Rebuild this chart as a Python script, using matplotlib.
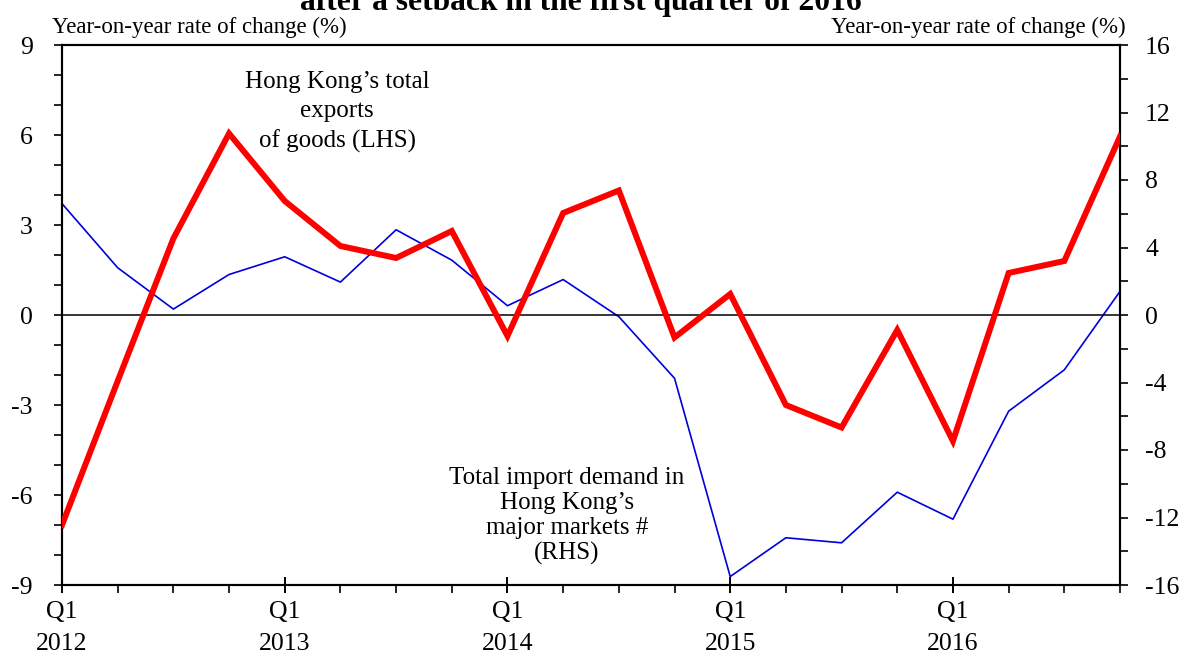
import numpy as np
import matplotlib
matplotlib.use("Agg")
import matplotlib.pyplot as plt
from matplotlib.ticker import MultipleLocator, FixedLocator

plt.rcParams['font.family'] = ['Liberation Serif', 'DejaVu Serif']

quarters = ["Q1\n2012", "Q2", "Q3", "Q4",
            "Q1\n2013", "Q2", "Q3", "Q4",
            "Q1\n2014", "Q2", "Q3", "Q4",
            "Q1\n2015", "Q2", "Q3", "Q4",
            "Q1\n2016", "Q2", "Q3", "Q4"]

# Hong Kong's total exports of goods, yoy % (LHS)
hk_exports = [-7.0, -2.2, 2.55, 6.05,
              3.8, 2.3, 1.9, 2.8,
              -0.7, 3.4, 4.15, -0.75,
              0.7, -3.0, -3.75, -0.5,
              -4.2, 1.4, 1.8, 5.95]

# Total import demand in HK's major markets, yoy % (RHS)
import_demand = [6.6, 2.8, 0.35, 2.4,
                 3.45, 1.95, 5.05, 3.25,
                 0.55, 2.1, -0.1, -3.75,
                 -15.5, -13.2, -13.5, -10.5,
                 -12.1, -5.7, -3.25, 1.4]

left_ticks = [-9, -6, -3, 0, 3, 6, 9]
right_ticks = [-16, -12, -8, -4, 0, 4, 8, 12, 16]

x = np.arange(len(quarters))

fig = plt.figure(figsize=(11.82, 6.57), dpi=100)
ax = fig.add_axes([62/1182, 1-585/657, (1120-62)/1182, (585-45)/657])
ax2 = ax.twinx()

ax.axhline(0, color='black', linewidth=1.1, zorder=1)
ax2.plot(x, import_demand, color='#0000DD', linewidth=1.2, zorder=2)
ax.plot(x, hk_exports, color='#FF0000', linewidth=4.3, zorder=3,
        solid_joinstyle='miter')
ax.set_zorder(ax2.get_zorder() + 1)
ax.patch.set_visible(False)

ax.set_xlim(0, len(quarters) - 1)
ax.set_ylim(-9, 9)
ax2.set_ylim(-16, 16)

major_idx = [i for i, q in enumerate(quarters) if q.startswith("Q1")]
ax.xaxis.set_major_locator(FixedLocator(major_idx))
ax.set_xticklabels([quarters[i] for i in major_idx], fontsize=18.5,
                   linespacing=1.6)
ax.xaxis.set_minor_locator(FixedLocator(list(x)))
ax.tick_params(axis='x', which='major', direction='inout', length=11,
               width=1.4, pad=6)
ax.tick_params(axis='x', which='minor', direction='out', length=5.5,
               width=1.2)

ax.set_yticks(left_ticks)
ax.set_yticklabels([str(v) for v in left_ticks], fontsize=18.5)
ax.yaxis.set_minor_locator(MultipleLocator(1))
ax.tick_params(axis='y', which='both', direction='out', length=6,
               width=1.2, pad=15)

ax2.set_yticks(right_ticks)
ax2.set_yticklabels([str(v) for v in right_ticks], fontsize=18.5)
ax2.yaxis.set_minor_locator(MultipleLocator(2))
ax2.tick_params(axis='y', which='both', direction='out', length=6,
                width=1.2, pad=12)

for a in (ax, ax2):
    for s in a.spines.values():
        s.set_linewidth(1.5)

fig.text(52/1182, 1-33/657, "Year-on-year rate of change (%)", fontsize=16.5,
         ha='left', va='baseline')
fig.text(1126/1182, 1-33/657, "Year-on-year rate of change (%)", fontsize=16.5,
         ha='right', va='baseline')

ax.text(4.94, 6.77, "Hong Kong\u2019s total\nexports\nof goods (LHS)",
        fontsize=18, ha='center', va='center', linespacing=1.4)
ax.text(9.07, -6.7, "Total import demand in\nHong Kong\u2019s\nmajor markets #\n(RHS)",
        fontsize=18, ha='center', va='center', linespacing=1.18)

fig.text(581/1182, 1-10/657, "after a setback in the first quarter of 2016",
         fontsize=22.7, fontweight='bold', ha='center', va='baseline')

fig.savefig("out.png", dpi=100)
